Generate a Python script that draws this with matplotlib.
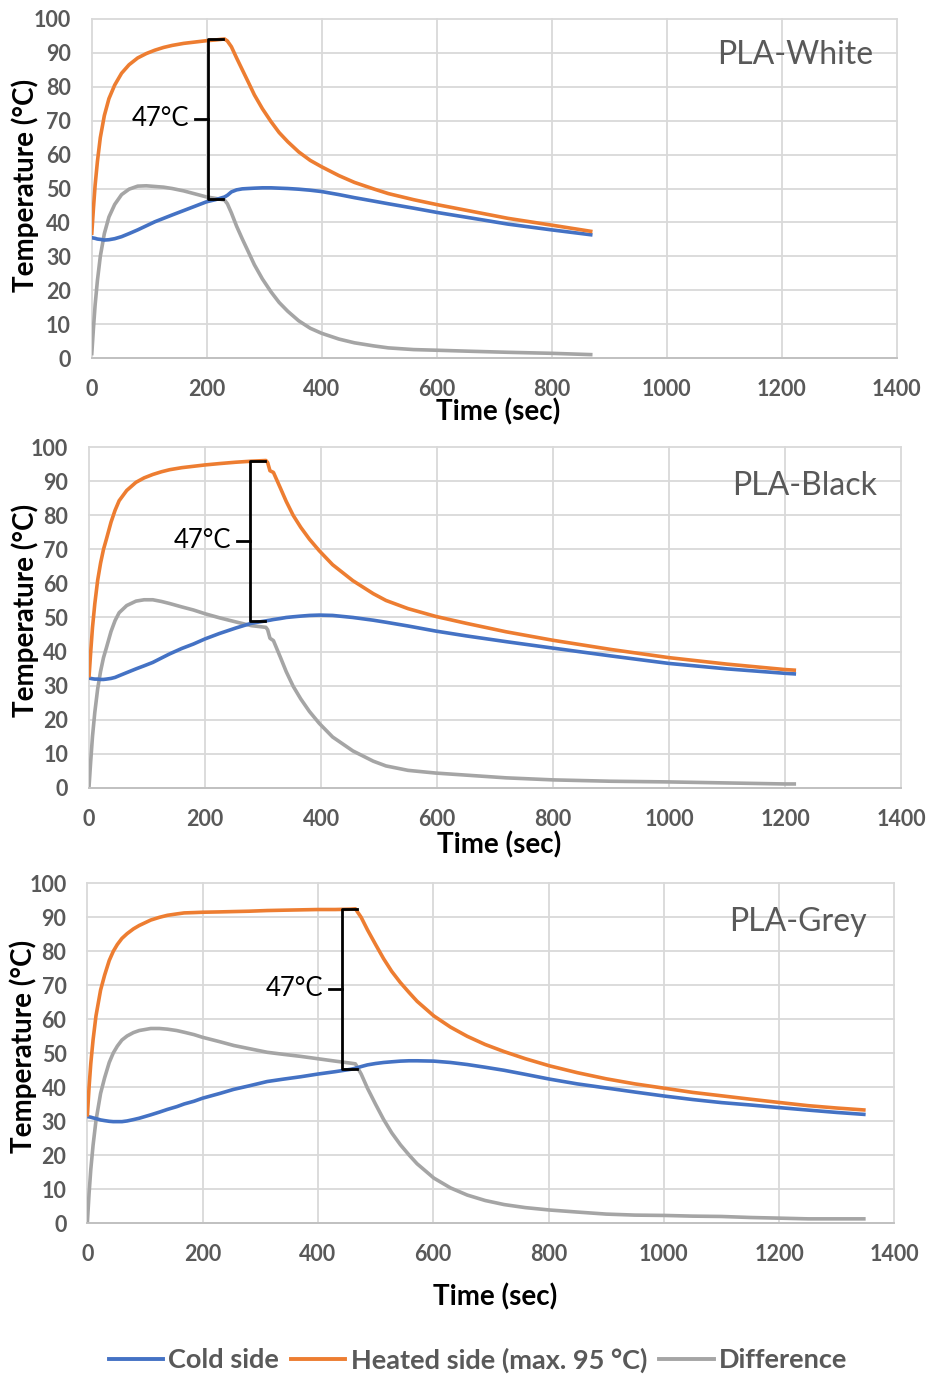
import numpy as np
import matplotlib
matplotlib.use("Agg")
import matplotlib.pyplot as plt
from matplotlib.lines import Line2D

plt.rcParams['font.family'] = ['Lato', 'DejaVu Sans']

# ---- PLA-White ----
white_t = [0, 3, 6, 10, 15, 22, 30, 40, 52, 65, 80, 95, 110, 125, 140, 160, 180, 200, 215,
           231, 236, 243, 252, 262, 272, 283, 297, 312, 326, 341, 360, 380, 400, 430, 457,
           490, 516, 560, 602, 660, 724, 800, 871]
white_heated = [36.3, 44, 51, 58, 65, 71.5, 76.5, 80.5, 84, 86.5, 88.5, 89.8, 90.8, 91.6, 92.2,
                92.8, 93.2, 93.6, 93.8, 94.1, 93.5, 91.8, 88.5, 85, 81.5, 77.6, 73.5, 69.7, 66.5,
                63.8, 60.8, 58.3, 56.4, 53.8, 51.8, 49.9, 48.5, 46.7, 45.2, 43.3, 41.2, 39.2, 37.3]
white_cold = [35.5, 35.4, 35.3, 35.1, 35.0, 34.8, 34.9, 35.2, 35.8, 36.7, 37.8, 39.0, 40.2, 41.2,
              42.2, 43.5, 44.8, 46.1, 46.7, 47.5, 48.0, 49.0, 49.6, 49.9, 50.0, 50.1, 50.2, 50.2,
              50.1, 50.0, 49.8, 49.5, 49.1, 48.2, 47.3, 46.3, 45.5, 44.2, 42.9, 41.3, 39.5, 37.8, 36.3]

# ---- PLA-Black ----
black_t = [0, 3, 6, 10, 15, 20, 25, 30, 38, 45, 52, 65, 81, 95, 110, 125, 139, 160, 180, 200,
           225, 253, 280, 305, 308, 312, 318, 330, 340, 352, 365, 380, 397, 420, 455, 490, 512,
           550, 598, 650, 719, 800, 900, 1000, 1100, 1200, 1219]
black_heated = [32.4, 40, 47, 54, 61, 66, 70, 73, 78, 81.5, 84.3, 87.3, 89.7, 91, 92, 92.8, 93.4,
                94.0, 94.4, 94.8, 95.2, 95.6, 95.9, 96.1, 95.5, 93.1, 92.6, 88, 84.1, 80, 76.5,
                73, 69.6, 65.5, 60.8, 57, 55.0, 52.6, 50.3, 48.3, 45.8, 43.3, 40.6, 38.2, 36.3,
                34.7, 34.5]
black_cold = [32.2, 32.1, 32.0, 31.9, 31.9, 31.8, 31.8, 31.9, 32.1, 32.4, 32.9, 33.8, 34.9, 35.8,
              36.8, 38.1, 39.3, 40.9, 42.2, 43.7, 45.3, 46.9, 48.3, 49.0, 49.1, 49.2, 49.4, 49.7,
              50.0, 50.2, 50.4, 50.6, 50.7, 50.6, 50.0, 49.2, 48.6, 47.5, 46.0, 44.6, 42.9, 41.0,
              38.7, 36.5, 34.9, 33.6, 33.4]

# ---- PLA-Grey ----
grey_t = [0, 3, 6, 10, 15, 23, 30, 38, 45, 52, 60, 69, 80, 90, 100, 110, 125, 139, 155, 168, 185,
          200, 230, 254, 280, 312, 340, 370, 400, 430, 457, 465, 475, 486, 500, 514, 528, 543,
          558, 572, 601, 630, 659, 690, 723, 760, 802, 850, 900, 950, 1002, 1050, 1100, 1150,
          1202, 1250, 1300, 1350]
grey_heated = [31.4, 40, 47, 54, 61, 68.6, 73, 77.3, 80, 82, 83.8, 85.2, 86.6, 87.6, 88.4, 89.2,
               90.0, 90.6, 91.0, 91.3, 91.4, 91.5, 91.6, 91.7, 91.8, 92.0, 92.1, 92.2, 92.3, 92.3,
               92.4, 92.5, 90, 86.3, 82, 77.8, 74.1, 70.8, 67.9, 65.3, 61.0, 57.7, 55.0, 52.6,
               50.5, 48.4, 46.3, 44.3, 42.5, 41.0, 39.7, 38.5, 37.5, 36.5, 35.5, 34.6, 33.9, 33.3]
grey_cold = [31.4, 31.3, 31.2, 31.0, 30.8, 30.4, 30.2, 30.0, 29.9, 29.9, 29.9, 30.1, 30.5, 30.9,
             31.4, 31.9, 32.7, 33.5, 34.3, 35.1, 35.9, 36.8, 38.2, 39.4, 40.4, 41.7, 42.4, 43.1,
             43.9, 44.6, 45.3, 45.6, 46.1, 46.6, 47.0, 47.3, 47.5, 47.7, 47.8, 47.8, 47.7, 47.3,
             46.7, 45.9, 45.0, 43.8, 42.4, 41.0, 39.8, 38.6, 37.4, 36.4, 35.5, 34.8, 34.0, 33.3,
             32.6, 32.0]

panel_names = ["PLA-White", "PLA-Black", "PLA-Grey"]

# Temperature gap bracket: x position (s), top and bottom temperatures (°C)
gap_value = 47
gap_x = [202, 277, 441]
gap_top = [94.0, 96.0, 92.5]
gap_bottom = [g - gap_value for g in gap_top]

x_ticks = list(range(0, 1401, 200))
y_ticks = list(range(0, 101, 10))

series_labels = ["Cold side", "Heated side (max. 95 °C)", "Difference"]
C_COLD = "#4472C4"
C_HOT = "#ED7D31"
C_DIFF = "#A5A5A5"
TXT = "#595959"
GRID = "#D9D9D9"
LW = 2.6

fig = plt.figure(figsize=(9.27, 13.74), dpi=100)

# axes rectangles [left, bottom, width, height] in figure fraction
rects = [
    [0.0989, 0.7394, 0.8684, 0.2468],
    [0.0960, 0.4267, 0.8760, 0.2478],
    [0.0942, 0.1097, 0.8707, 0.2474],
]
xlabel_y = [-0.159, -0.168, -0.217]
ylabel_x = [-0.082, -0.079, -0.080]
ylabel_y = [0.51, 0.522, 0.519]
name_pos = [(0.9706, 0.894), (0.970, 0.887), (0.966, 0.887)]

data = [
    (white_t, white_heated, white_cold),
    (black_t, black_heated, black_cold),
    (grey_t, grey_heated, grey_cold),
]

for i, (t, hot, cold) in enumerate(data):
    ax = fig.add_axes(rects[i])
    t = np.array(t, dtype=float)
    hot = np.array(hot, dtype=float)
    cold = np.array(cold, dtype=float)
    diff = hot - cold

    ax.plot(t, cold, color=C_COLD, lw=LW, solid_capstyle='butt', solid_joinstyle='round', zorder=3)
    ax.plot(t, hot, color=C_HOT, lw=LW, solid_capstyle='butt', solid_joinstyle='round', zorder=3)
    ax.plot(t, diff, color=C_DIFF, lw=LW, solid_capstyle='butt', solid_joinstyle='round', zorder=2)

    ax.set_xlim(0, 1400)
    ax.set_ylim(0, 100)
    ax.set_xticks(x_ticks)
    ax.set_yticks(y_ticks)
    ax.grid(True, color=GRID, lw=1.3)
    ax.set_axisbelow(True)
    for gl in ax.get_xgridlines() + ax.get_ygridlines():
        gl.set_clip_on(False)
    for s in ["top", "right", "left"]:
        ax.spines[s].set_visible(False)
    ax.spines["bottom"].set_color("#BFBFBF")
    ax.spines["bottom"].set_linewidth(1.3)
    ax.tick_params(axis='x', length=0, pad=15, labelsize=15.5, labelcolor=TXT)
    ax.tick_params(axis='y', length=0, pad=15, labelsize=15.5, labelcolor=TXT)
    for lab in ax.get_xticklabels() + ax.get_yticklabels():
        lab.set_fontweight('bold')

    ax.set_xlabel("Time (sec)", fontsize=20, fontweight='bold', color='black')
    ax.xaxis.set_label_coords(0.505, xlabel_y[i])
    ax.xaxis.label.set_va('center')
    ax.set_ylabel("Temperature (°C)", fontsize=20, fontweight='bold', color='black')
    ax.yaxis.set_label_coords(ylabel_x[i], ylabel_y[i])
    ax.yaxis.label.set_va('center')

    ax.text(name_pos[i][0], name_pos[i][1], panel_names[i], transform=ax.transAxes,
            ha='right', va='center', fontsize=23, color=TXT)

    # bracket showing the temperature gap
    bx, top, bot = gap_x[i], gap_top[i], gap_bottom[i]
    mid = (top + bot) / 2
    serif = 26
    tick = 22
    ax.plot([bx + serif, bx, bx, bx + serif], [top, top, bot, bot],
            color='black', lw=2, zorder=5, solid_joinstyle='round')
    ax.plot([bx - tick, bx], [mid, mid], color='black', lw=2, zorder=5)
    ax.text(bx - tick - 10, mid, f"{gap_value}°C", ha='right', va='center',
            fontsize=18.5, color='black', zorder=5)

handles = [Line2D([], [], color=c, lw=2.8) for c in (C_COLD, C_HOT, C_DIFF)]
leg = fig.legend(handles, series_labels, loc='center', ncol=3,
                 bbox_to_anchor=(478 / 927, 1 - 1360 / 1374), frameon=False,
                 prop={'size': 19.5, 'weight': 'bold'}, handlelength=2.0,
                 handletextpad=0.2, columnspacing=0.45, labelcolor=TXT)

fig.savefig("out.png", dpi=100, facecolor='white')
